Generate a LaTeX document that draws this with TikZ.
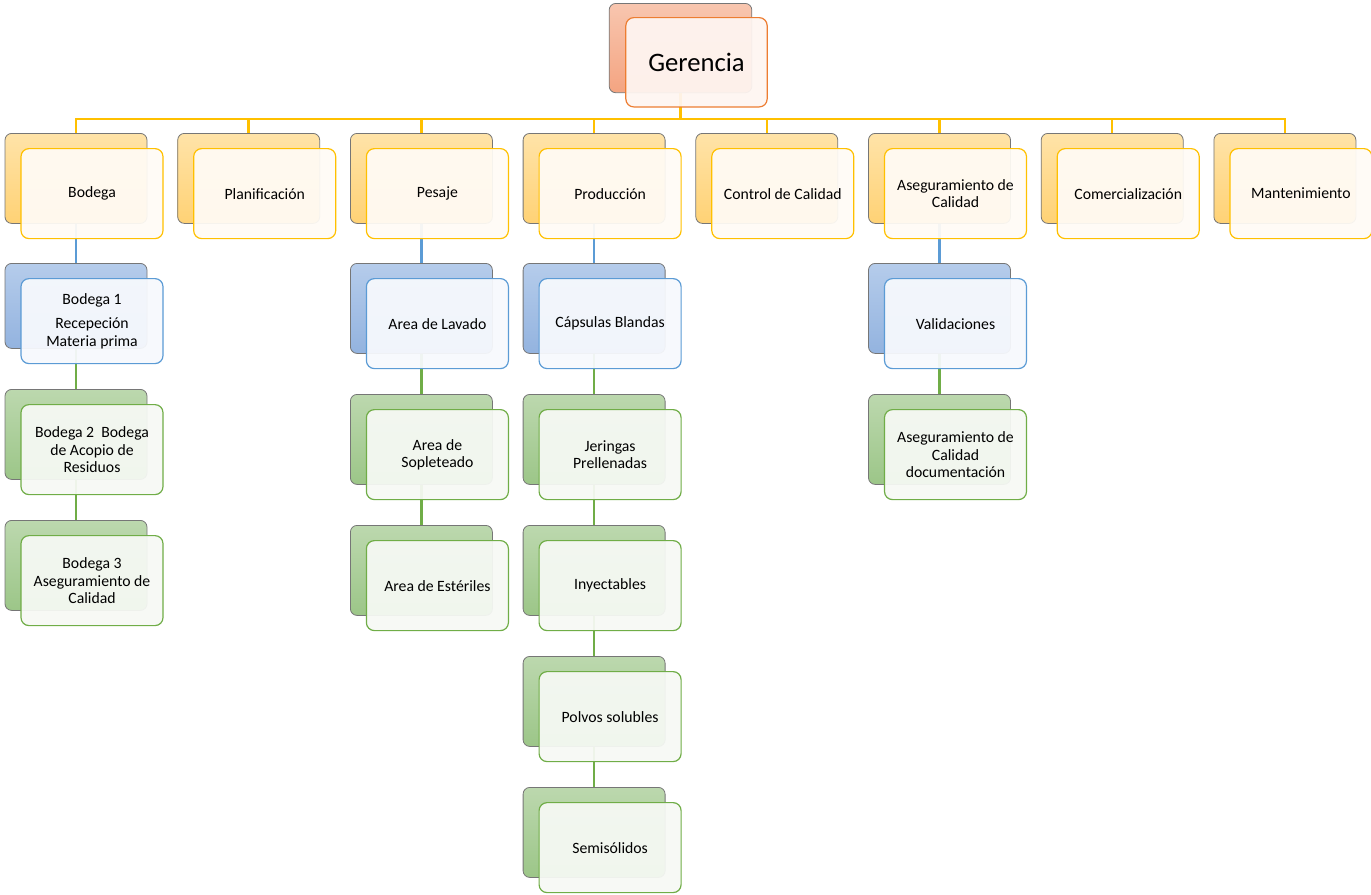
\documentclass[tikz,border=0pt]{standalone}
\usepackage{fontspec}
\setmainfont{Carlito}
\usetikzlibrary{backgrounds}
\definecolor{ortop}{HTML}{F8C6AF}
\definecolor{orbot}{HTML}{F4A481}
\definecolor{orline}{HTML}{ED7D31}
\definecolor{orfill}{HTML}{FEF5F1}
\definecolor{yeltop}{HTML}{FFE3A8}
\definecolor{yelbot}{HTML}{FFD275}
\definecolor{yelline}{HTML}{FFC000}
\definecolor{yelfill}{HTML}{FFFBF5}
\definecolor{blutop}{HTML}{B5CCEB}
\definecolor{blubot}{HTML}{93B3DF}
\definecolor{bluline}{HTML}{5B9BD5}
\definecolor{blufill}{HTML}{F7F9FD}
\definecolor{grntop}{HTML}{BCD8AE}
\definecolor{grnbot}{HTML}{9CC688}
\definecolor{grnline}{HTML}{70AD47}
\definecolor{grnfill}{HTML}{F6F9F4}
\definecolor{backline}{HTML}{767676}
\newcommand\lvlfont{\fontsize{11.8}{13.2}\selectfont}
\newcommand\orgbox[6]{%
  \node[backbox=#5, minimum height=#4, anchor=north] (#1-b) at (#2,#3) {};
  \node[frontbox=#5, minimum height=#4, anchor=north] (#1) at (#2+16,#3+15) {#6};
}
\tikzset{
  backbox/.style={rounded corners=5pt, draw=backline, line width=0.6pt,
    top color=#1top, bottom color=#1bot, minimum width=106.5pt, inner sep=0pt},
  frontbox/.style={rounded corners=6pt, draw=#1line, line width=0.9pt,
    fill=#1fill, fill opacity=0.94, text opacity=1, minimum width=106.5pt,
    inner sep=2pt, align=center, font=\lvlfont, text=black},
  conn/.style={line width=1.9pt, draw=#1line},
}
\begin{document}
\begin{tikzpicture}[x=0.75pt, y=-0.75pt]
\useasboundingbox (0,0) rectangle (1371,894);
% top
\node[backbox=or, minimum height=67pt, minimum width=107pt, anchor=north] (ger-b) at (680.5,3) {};
\node[frontbox=or, minimum height=67pt, minimum width=106pt, anchor=north, font=\fontsize{20}{24}\selectfont] (ger) at (696.5,17) {Gerencia};
\coordinate (bus) at (680.5,119);
% level 1
\orgbox{bod}{76}{133}{67.5pt}{yel}{Bodega}
\orgbox{pla}{248.7}{133}{67.5pt}{yel}{Planificación}
\orgbox{pes}{421.4}{133}{67.5pt}{yel}{Pesaje}
\orgbox{pro}{594.1}{133}{67.5pt}{yel}{Producción}
\orgbox{con}{766.8}{133}{67.5pt}{yel}{Control de Calidad}
\orgbox{ase}{939.5}{133}{67.5pt}{yel}{Aseguramiento de\\Calidad}
\orgbox{com}{1112.2}{133}{67.5pt}{yel}{Comercialización}
\orgbox{man}{1284.9}{133}{67.5pt}{yel}{Mantenimiento}
% Bodega column
\orgbox{b1}{76}{263}{63.75pt}{blu}{Bodega 1\\[5pt]Recepeción\\Materia prima}
\orgbox{b2}{76}{389}{67.5pt}{grn}{Bodega 2~~Bodega\\de Acopio de\\Residuos}
\orgbox{b3}{76}{520}{67.5pt}{grn}{Bodega 3\\Aseguramiento de\\Calidad}
% Pesaje column
\orgbox{lav}{421.4}{263}{67.5pt}{blu}{Area de Lavado}
\orgbox{sop}{421.4}{394}{67.5pt}{grn}{Area de\\Sopleteado}
\orgbox{est}{421.4}{525}{67.5pt}{grn}{Area de Estériles}
% Produccion column
\orgbox{cap}{594.1}{263}{67.5pt}{blu}{Cápsulas Blandas}
\orgbox{jer}{594.1}{394}{67.5pt}{grn}{Jeringas\\Prellenadas}
\orgbox{iny}{594.1}{525}{67.5pt}{grn}{Inyectables}
\orgbox{pol}{594.1}{656}{67.5pt}{grn}{Polvos solubles}
\orgbox{sem}{594.1}{787}{67.5pt}{grn}{Semisólidos}
% Aseguramiento column
\orgbox{val}{939.5}{263}{67.5pt}{blu}{Validaciones}
\orgbox{asd}{939.5}{394}{67.5pt}{grn}{Aseguramiento de\\Calidad\\documentación}
% connectors
\begin{pgfonlayer}{background}
\draw[conn=yel] (ger-b.south) -- (bus);
\foreach \n in {bod,pla,pes,pro,con,ase,com,man}{\draw[conn=yel] (bus) -| (\n-b.north);}
\draw[conn=blu] (bod-b.south) -- (b1-b.north);
\draw[conn=grn] (b1-b.south) -- (b2-b.north);
\draw[conn=grn] (b2-b.south) -- (b3-b.north);
\draw[conn=blu] (pes-b.south) -- (lav-b.north);
\draw[conn=grn] (lav-b.south) -- (sop-b.north);
\draw[conn=grn] (sop-b.south) -- (est-b.north);
\draw[conn=blu] (pro-b.south) -- (cap-b.north);
\draw[conn=grn] (cap-b.south) -- (jer-b.north);
\draw[conn=grn] (jer-b.south) -- (iny-b.north);
\draw[conn=grn] (iny-b.south) -- (pol-b.north);
\draw[conn=grn] (pol-b.south) -- (sem-b.north);
\draw[conn=blu] (ase-b.south) -- (val-b.north);
\draw[conn=grn] (val-b.south) -- (asd-b.north);
\end{pgfonlayer}
\end{tikzpicture}
\end{document}
